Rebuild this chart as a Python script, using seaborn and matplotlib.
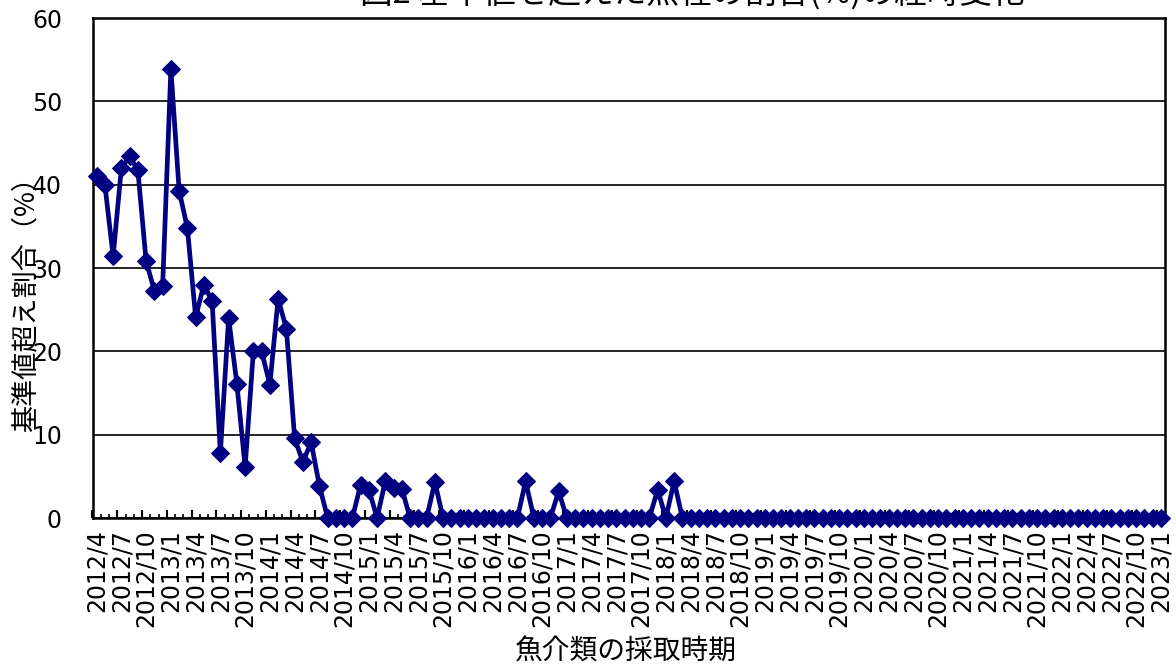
import numpy as np
import pandas as pd
import matplotlib
matplotlib.use("Agg")
import matplotlib.pyplot as plt
import seaborn as sns

# sampling months, 2012/4 .. 2023/1 (one category per month)
months = [f"{p.year}/{p.month}" for p in pd.period_range("2012-04", "2023-01", freq="M")]

# share of species above the standard limit (%)
ratio = [
    41.0, 40.0, 31.4, 42.0, 43.4, 41.7, 30.8, 27.3, 27.8, 53.9,   # 2012/4 - 2013/1
    39.3, 34.8, 24.1, 28.0, 26.0, 7.8, 24.0, 16.1, 6.1, 20.0,     # 2013/2 - 2013/11
    20.0, 16.0, 26.3, 22.7, 9.6, 6.7, 9.1, 3.9, 0, 0,             # 2013/12 - 2014/9
    0, 0, 4.0, 3.4, 0, 4.5, 3.6, 3.5, 0, 0,                       # 2014/10 - 2015/7
    0, 4.3, 0, 0, 0, 0, 0, 0, 0, 0,                               # 2015/8 - 2016/5
    0, 0, 4.4, 0, 0, 0, 3.2, 0, 0, 0,                             # 2016/6 - 2017/3
    0, 0, 0, 0, 0, 0, 0, 0, 3.4, 0,                               # 2017/4 - 2018/1
    4.4, 0, 0, 0, 0, 0, 0, 0, 0, 0,                               # 2018/2 - 2018/11
    0, 0, 0, 0, 0, 0, 0, 0, 0, 0,                                 # 2018/12 - 2019/9
    0, 0, 0, 0, 0, 0, 0, 0, 0, 0,                                 # 2019/10 - 2020/7
    0, 0, 0, 0, 0, 0, 0, 0, 0, 0,                                 # 2020/8 - 2021/5
    0, 0, 0, 0, 0, 0, 0, 0, 0, 0,                                 # 2021/6 - 2022/3
    0, 0, 0, 0, 0, 0, 0, 0, 0, 0,                                 # 2022/4 - 2023/1
]

tick_labels = months[::3]
y_ticks = [0, 10, 20, 30, 40, 50, 60]

title = "図2 基準値を超えた魚種の割合(%)の経時変化"
x_label = "魚介類の採取時期"
y_label = "基準値超え割合（%）"

df = pd.DataFrame({"month": months, "ratio": ratio})

sns.set_style("white")
plt.rcParams["font.family"] = ["DejaVu Sans", "Noto Sans CJK JP"]
plt.rcParams["text.color"] = "black"
plt.rcParams["xtick.color"] = "black"
plt.rcParams["ytick.color"] = "black"
plt.rcParams["axes.labelcolor"] = "black"
jp = "Noto Sans CJK JP"
navy = "#000080"

fig = plt.figure(figsize=(11.76, 6.66), dpi=100)
ax = fig.add_axes([92.5 / 1176, 148 / 666, 1072.5 / 1176, 500 / 666])

sns.lineplot(
    data=df, x="month", y="ratio", sort=False, ax=ax,
    color=navy, linewidth=3.4, marker="D", markersize=9.5,
    markeredgecolor=navy, markerfacecolor=navy, clip_on=False, zorder=5,
)

n = len(months)
ax.set_xlim(-0.5, n - 0.5)
ax.set_ylim(0, 60)
ax.set_yticks(y_ticks)
ax.grid(axis="y", color="black", linewidth=1.2)
ax.grid(axis="x", visible=False)

# labels sit on every third category, tick marks on the category boundaries
ax.set_xticks(range(0, n, 3))
ax.set_xticklabels(tick_labels, rotation=90, fontsize=17)
ax.set_xticks(np.arange(-0.5, n, 1), minor=True)
ax.tick_params(axis="x", which="major", length=0, pad=8, labelcolor="black")
ax.tick_params(axis="x", which="minor", direction="in", length=3, width=1.2,
               color="black", bottom=True)
sec = ax.secondary_xaxis("bottom")
sec.set_xticks(np.arange(-0.5, n, 3))
sec.tick_params(direction="in", length=5.5, width=1.5, color="black", labelbottom=False)
sec.spines["bottom"].set_visible(False)

ax.tick_params(axis="y", length=0, pad=22, labelsize=17, labelcolor="black")

for side in ["left", "bottom", "right", "top"]:
    ax.spines[side].set_visible(True)
    ax.spines[side].set_color("black")
    ax.spines[side].set_linewidth(1.8)

ax.set_xlabel(x_label, family=jp, fontsize=20, color="black")
ax.xaxis.set_label_coords(0.497, -0.238)
ax.set_ylabel(y_label, family=jp, fontsize=19.5, color="black")
ax.yaxis.set_label_coords(-0.05, 0.44)

fig.text(692 / 1176, 1 - 4 / 666, title, family=jp, fontsize=23.5,
         ha="center", va="baseline", color="black")

fig.savefig("out.png", dpi=100)
plt.close(fig)
